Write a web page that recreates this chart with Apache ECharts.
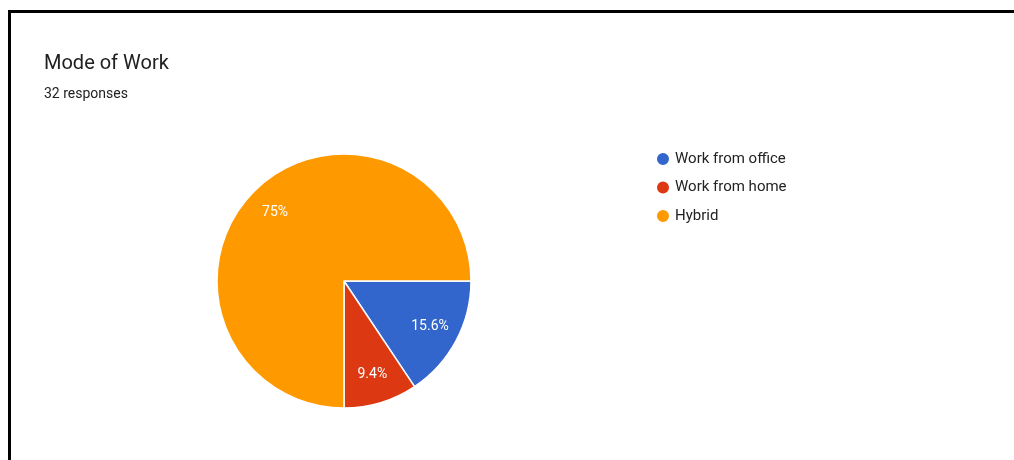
<!DOCTYPE html>
<html>
<head>
<meta charset="utf-8">
<script src="https://cdn.jsdelivr.net/npm/echarts@6/dist/echarts.min.js"></script>
<style>
  html, body { margin: 0; padding: 0; background: #fff; }
  #frame { position: absolute; left: 8px; top: 10px; width: 1100px; height: 600px; border: 3px solid #000; box-sizing: border-box; }
  #chart { position: absolute; left: 0; top: 0; width: 1014px; height: 460px; }
</style>
</head>
<body>
<div id="frame"></div>
<div id="chart"></div>
<script>
const titleText = 'Mode of Work';
const subtitleText = '32 responses';
const categories = ['Work from office', 'Work from home', 'Hybrid'];
const counts = [5, 3, 24];
const colors = ['#3366CC', '#DC3912', '#FF9900'];

const total = counts.reduce((a, b) => a + b, 0);
const pieData = categories.map((c, i) => ({ name: c, value: counts[i], itemStyle: { color: colors[i] } }));
const fmtPct = p => {
  const v = Math.round(p * 10) / 10;
  return (Number.isInteger(v) ? v.toFixed(0) : v.toFixed(1)) + '%';
};

const chart = echarts.init(document.getElementById('chart'), null, { renderer: 'canvas' });
chart.setOption({
  animation: false,
  title: {
    text: titleText,
    subtext: subtitleText,
    left: 39,
    top: 49,
    itemGap: 13,
    textStyle: { fontFamily: 'Roboto', fontSize: 20, fontWeight: 'normal', color: '#212121' },
    subtextStyle: { fontFamily: 'Roboto', fontSize: 14, color: '#212121' }
  },
  legend: {
    orient: 'vertical',
    left: 650,
    top: 146,
    icon: 'circle',
    itemWidth: 14,
    itemHeight: 14,
    itemGap: 12.5,
    data: categories,
    textStyle: { fontFamily: 'Roboto', fontSize: 15, color: '#222' }
  },
  series: [
    {
      type: 'pie',
      center: [344, 281],
      radius: [0, 127],
      startAngle: 0,
      clockwise: true,
      data: pieData,
      label: { show: false },
      labelLine: { show: false },
      itemStyle: { borderColor: '#fff', borderWidth: 1.5 },
      emphasis: { disabled: true }
    },
    {
      type: 'pie',
      center: [344, 281],
      radius: [62, 127],
      startAngle: 0,
      clockwise: true,
      silent: true,
      data: pieData.map(d => ({ name: d.name, value: d.value, itemStyle: { color: 'rgba(0,0,0,0)' } })),
      itemStyle: { borderWidth: 0 },
      label: {
        show: true,
        position: 'inside',
        formatter: p => fmtPct(p.value / total * 100),
        color: '#fff',
        fontFamily: 'Roboto',
        fontSize: 14
      },
      labelLine: { show: false },
      emphasis: { disabled: true }
    }
  ]
});
</script>
</body>
</html>
